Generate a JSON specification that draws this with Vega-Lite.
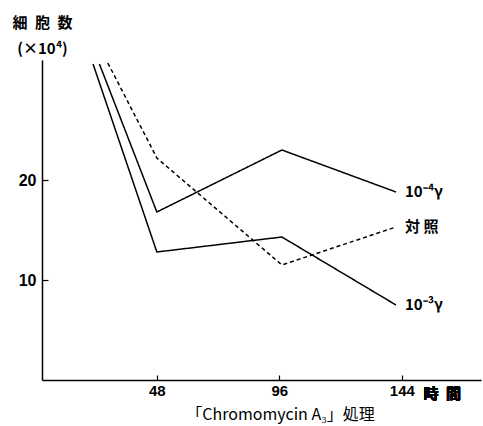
{
  "$schema": "https://vega.github.io/schema/vega-lite/v6.json",
  "width": 439,
  "height": 320,
  "autosize": "none",
  "padding": {"left": 42, "top": 60, "right": 2, "bottom": 46},
  "background": "white",
  "config": {"view": {"stroke": null}, "font": "Liberation Sans"},
  "data": {
    "values": [
      {"series": "10⁻³γ", "t": 23, "cells": 31.6},
      {"series": "10⁻³γ", "t": 48, "cells": 12.8},
      {"series": "10⁻³γ", "t": 97, "cells": 14.3},
      {"series": "10⁻³γ", "t": 141.7, "cells": 7.5},
      {"series": "10⁻⁴γ", "t": 25.5, "cells": 31.6},
      {"series": "10⁻⁴γ", "t": 48, "cells": 16.8},
      {"series": "10⁻⁴γ", "t": 97, "cells": 23.0},
      {"series": "10⁻⁴γ", "t": 141.7, "cells": 18.8},
      {"series": "対 照", "t": 28.8, "cells": 31.7},
      {"series": "対 照", "t": 48, "cells": 22.2},
      {"series": "対 照", "t": 97, "cells": 11.5},
      {"series": "対 照", "t": 141.7, "cells": 15.3}
    ]
  },
  "layer": [
    {
      "mark": {"type": "line", "color": "black", "strokeWidth": 1.5},
      "encoding": {
        "x": {
          "field": "t", "type": "quantitative",
          "scale": {"domain": [3, 175], "nice": false, "zero": false},
          "axis": {
            "values": [48, 96, 144], "grid": false, "domainColor": "black", "domainWidth": 1.5,
            "tickColor": "black", "tickSize": -5, "tickWidth": 1.2,
            "labelFont": "Liberation Sans", "labelFontWeight": "bold", "labelFontSize": 15, "labelColor": "black",
            "labelPadding": 8,
            "title": "「Chromomycin A₃」処理", "titleFont": "Noto Sans CJK JP", "titleFontWeight": "normal",
            "titleFontSize": 16, "titleColor": "black", "titlePadding": 8, "titleX": 238
          }
        },
        "y": {
          "field": "cells", "type": "quantitative",
          "scale": {"domain": [0, 32], "nice": false},
          "axis": {
            "values": [10, 20], "grid": false, "domainColor": "black", "domainWidth": 1.5,
            "tickColor": "black", "tickSize": -6, "tickWidth": 1.2,
            "labelFont": "Liberation Sans", "labelFontWeight": "bold", "labelFontSize": 16, "labelColor": "black",
            "labelPadding": 12,
            "title": ["細\u2002胞\u2002数", "(×10⁴)"], "titleFont": "Noto Sans CJK JP", "titleFontWeight": "bold",
            "titleFontSize": 15, "titleColor": "black", "titleAngle": 0, "titleAlign": "center",
            "titleBaseline": "middle", "titleX": 0, "titleY": -38, "titleLineHeight": 26
          }
        },
        "strokeDash": {
          "field": "series", "type": "nominal",
          "scale": {"domain": ["10⁻³γ", "10⁻⁴γ", "対 照"], "range": [[1, 0], [1, 0], [4, 3]]},
          "legend": null
        }
      }
    },
    {
      "transform": [{"filter": "datum.t > 140"}],
      "mark": {"type": "text", "align": "left", "baseline": "middle", "dx": 9, "fontSize": 15, "fontWeight": "bold", "font": "Noto Sans CJK JP", "color": "black"},
      "encoding": {
        "x": {"field": "t", "type": "quantitative"},
        "y": {"field": "cells", "type": "quantitative"},
        "text": {"field": "series"}
      }
    },
    {
      "mark": {"type": "text", "align": "left", "baseline": "middle", "fontSize": 15, "fontWeight": "bold", "font": "Noto Sans CJK JP", "color": "black", "clip": false},
      "encoding": {
        "x": {"datum": 152.5},
        "y": {"datum": -1.4},
        "text": {"value": "時\u2002間"}
      }
    }
  ]
}
